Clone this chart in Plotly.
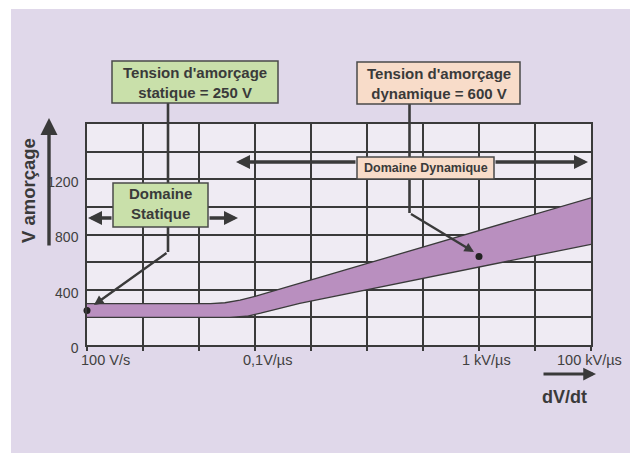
import math
import plotly.graph_objects as go

# ---------------- data ----------------
rate_upper = [1e2, 1.6e4, 2.9e4, 5.4e4, 1e5, 1e11]          # V/s
v_upper = [300, 300, 306, 325, 352, 1066]                    # V
rate_lower = [1e2, 3.5e4, 7.1e4, 1.26e5, 6.3e5, 1e11]        # V/s
v_lower = [200, 200, 208, 230, 302, 729]                     # V

point_rates = [1e2, 1e9]
point_volts = [250, 640]

x_grid = [1e2, 1e3, 1e4, 1e5, 1e6, 1e7, 1e8, 1e9, 1e10, 1e11]
x_label_vals = [1e2, 1e5, 1e9, 1e11]
x_label_text = ["100 V/s", "0,1V/µs", "1 kV/µs", "100 kV/µs"]
y_grid = [0, 200, 400, 600, 800, 1000, 1200, 1400, 1600]
y_label_text = ["0", "", "400", "", "800", "", "1200", "", ""]

box_static_title = "Tension d'amorçage<br>statique = 250 V"
box_dyn_title = "Tension d'amorçage<br>dynamique = 600 V"
dom_static = "Domaine<br>Statique"
dom_dyn = "Domaine Dynamique"
y_title = "V amorçage"
x_title = "dV/dt"

# ---------------- layout helpers (window pixel coords) ----------------
OFF = 8                      # page body margin
WW, WH = 638, 453            # window
W, H = WW - OFF, WH - OFF    # figure size
PL, PR, PT, PB = 87, 591, 124, 345
def px(x): return (x - PL) / (PR - PL)
def py(y): return (PB - y) / (PB - PT)

FONT = "Liberation Sans, Arial, sans-serif"
DARK = "#3a3a3a"
LAV = "#e0d8ea"
PLOTBG = "#efebf3"
PURPLE = "#b98fbf"
GREEN = "#c9e0aa"
PEACH = "#f8dcc9"

fig = go.Figure()
fig.add_trace(go.Scatter(x=rate_lower, y=v_lower, mode="lines",
                         line=dict(color=DARK, width=1.3), hoverinfo="skip"))
fig.add_trace(go.Scatter(x=rate_upper, y=v_upper, mode="lines", fill="tonexty",
                         fillcolor=PURPLE, line=dict(color=DARK, width=1.3),
                         hoverinfo="skip"))
fig.add_trace(go.Scatter(x=point_rates, y=point_volts, mode="markers",
                         marker=dict(color="#222222", size=7), cliponaxis=False,
                         hoverinfo="skip"))

shapes = []
# white outer strips
for x0, y0, x1, y1 in [(0, 0, 11, WH), (0, 0, WW, 9), (632, 0, WW, WH)]:
    shapes.append(dict(type="rect", xref="paper", yref="paper",
                       x0=px(x0), x1=px(x1), y0=py(y1), y1=py(y0),
                       fillcolor="white", line=dict(width=0), layer="below"))
# callout vertical lines
for x, y0, y1 in [(168, 103, 252), (409.5, 104, 213)]:
    shapes.append(dict(type="line", xref="paper", yref="paper",
                       x0=px(x), x1=px(x), y0=py(y0), y1=py(y1),
                       line=dict(color=DARK, width=2.6), layer="above"))
# boxes
for (x0, y0, x1, y1, col) in [(112, 61, 278, 103, GREEN), (357, 62, 520, 104, PEACH),
                              (113, 183, 208, 227, GREEN), (357, 157, 494, 179, PEACH)]:
    shapes.append(dict(type="rect", xref="paper", yref="paper",
                       x0=px(x0), x1=px(x1), y0=py(y1), y1=py(y0),
                       fillcolor=col, line=dict(color="#4a4a4a", width=1.5),
                       layer="above"))

ann = []
def text(xc, yc, t, size, **kw):
    d = dict(xref="paper", yref="paper", x=px(xc), y=py(yc), text=t,
             showarrow=False, xanchor="center", yanchor="middle",
             font=dict(family=FONT, size=size, color=DARK))
    d.update(kw)
    ann.append(d)

def arrow(hx, hy, tx, ty, width, size, head=2):
    ann.append(dict(xref="paper", yref="paper", x=px(hx), y=py(hy),
                    ax=tx - hx, ay=ty - hy, text="", showarrow=True,
                    arrowhead=head, arrowwidth=width, arrowsize=size,
                    arrowcolor=DARK, standoff=0, startstandoff=0))

text(195, 82, "<b>" + box_static_title + "</b>", 15)
text(438.5, 83, "<b>" + box_dyn_title + "</b>", 15)
text(160, 203, "<b>" + dom_static + "</b>", 15)
text(425.5, 168, "<b>" + dom_dyn + "</b>", 12.5)
text(28, 191, "<b>" + y_title + "</b>", 18.5, textangle=-90)
text(564, 397, "<b>" + x_title + "</b>", 18)

# domain arrows
arrow(88, 218, 113, 218, 3.3, 0.85)
arrow(238, 218, 208, 218, 3.3, 0.85)
arrow(236, 162, 357, 162, 3.3, 0.85)
arrow(588, 162, 494, 162, 3.3, 0.85)
# callout diagonals
arrow(94, 305, 168, 252, 2.4, 0.8)
arrow(474, 252, 409.5, 213, 2.4, 0.8)
# axis arrows
arrow(49, 118, 49, 247, 3.4, 1.0)
arrow(596, 374, 542, 374, 3.0, 0.85)

# x tick labels (axis-positioned)
x_shift = [18, 12, 7, -2]
for v, t, s in zip(x_label_vals, x_label_text, x_shift):
    ann.append(dict(xref="x", yref="paper", x=math.log10(v), y=py(360), text=t,
                    showarrow=False, xanchor="center", yanchor="middle", xshift=s,
                    font=dict(family=FONT, size=14.5, color="#404040")))

fig.update_layout(
    width=W, height=H,
    margin=dict(l=PL - OFF, r=W - (PR - OFF), t=PT - OFF, b=H - (PB - OFF), pad=0),
    paper_bgcolor=LAV, plot_bgcolor=PLOTBG,
    showlegend=False,
    shapes=shapes, annotations=ann,
    xaxis=dict(type="log", range=[2, 11], tickvals=x_grid, showticklabels=False,
               showgrid=True, gridcolor=DARK, gridwidth=1.5,
               showline=True, linecolor=DARK, linewidth=1.5, mirror=True,
               ticks="outside", ticklen=4, tickcolor=DARK, tickwidth=1.5,
               zeroline=False, fixedrange=True),
    yaxis=dict(range=[0, 1600], tickvals=y_grid, ticktext=y_label_text,
               showgrid=True, gridcolor=DARK, gridwidth=1.5,
               showline=True, linecolor=DARK, linewidth=1.5, mirror=True,
               ticks="", zeroline=False, ticklabelstandoff=4, ticklabelshift=3,
               tickfont=dict(family=FONT, size=14, color="#404040"),
               fixedrange=True),
)

fig.write_html("out.html")
